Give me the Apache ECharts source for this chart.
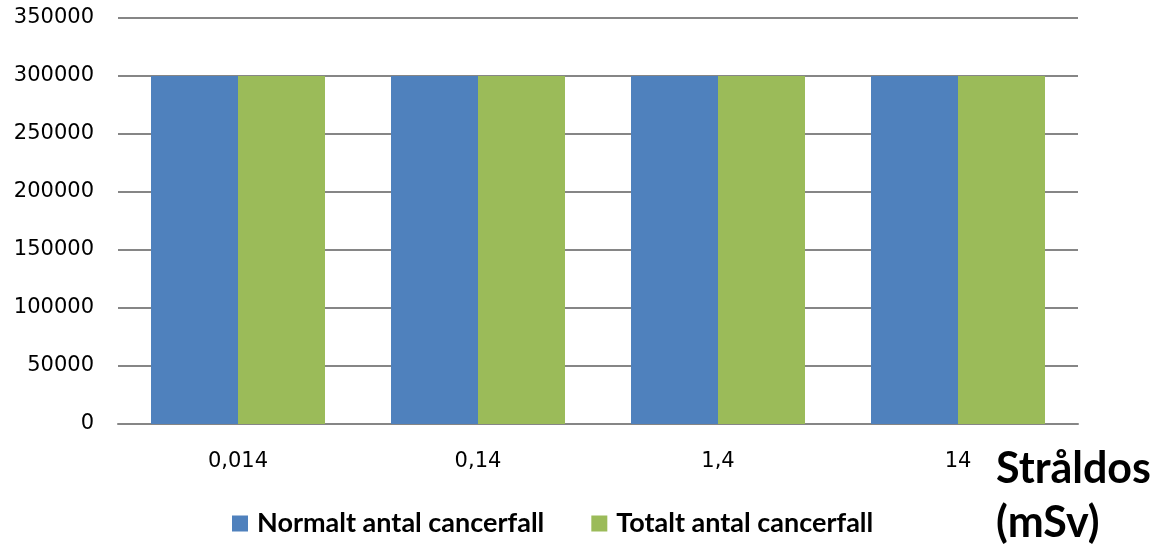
<!DOCTYPE html>
<html>
<head>
<meta charset="utf-8">
<script src="https://cdn.jsdelivr.net/npm/echarts@6/dist/echarts.min.js"></script>
<style>
  html, body { margin: 0; padding: 0; background: #fff; }
  #chart { width: 1171px; height: 544px; }
</style>
</head>
<body>
<div id="chart"></div>
<script>
const categories = ['0,014', '0,14', '1,4', '14'];
const normalt = [300000, 300000, 300000, 300000];
const totalt = [300000, 300000, 300000, 300000];
const seriesNames = ['Normalt antal cancerfall', 'Totalt antal cancerfall'];
const axisName = 'Stråldos\n(mSv)';

const chart = echarts.init(document.getElementById('chart'));
const gridColor = '#868686';

chart.setOption({
  animation: false,
  grid: { left: 118, right: 93, top: 18, bottom: 120 },
  legend: {
    left: 227,
    top: 505,
    icon: 'rect',
    itemWidth: 16,
    itemHeight: 16,
    itemGap: 47,
    textStyle: { fontFamily: 'Lato', fontWeight: 'bold', fontSize: 27, color: '#000', padding: [0, 0, 0, 4] },
    data: seriesNames,
  },
  xAxis: {
    type: 'category',
    data: categories,
    axisLine: { lineStyle: { color: gridColor, width: 2 } },
    axisTick: { show: false },
    axisLabel: { color: '#000', fontFamily: 'DejaVu Sans', fontSize: 21, margin: 27 },
  },
  yAxis: {
    type: 'value',
    min: 0,
    max: 350000,
    interval: 50000,
    axisLine: { show: false },
    axisTick: { show: false },
    axisLabel: { color: '#000', fontFamily: 'DejaVu Sans', fontSize: 21, margin: 24, formatter: (v) => String(v) },
    splitLine: { lineStyle: { color: gridColor, width: 2 } },
  },
  graphic: [{
    type: 'text',
    left: 996,
    top: 442,
    style: {
      text: axisName,
      font: 'bold 43px Lato',
      lineHeight: 54,
      fill: '#000',
    },
  }],
  series: [
    {
      name: seriesNames[0],
      type: 'bar',
      data: normalt,
      barGap: '0%',
      barCategoryGap: '27.5%',
      itemStyle: { color: '#4F81BD' },
    },
    {
      name: seriesNames[1],
      type: 'bar',
      data: totalt,
      itemStyle: { color: '#9BBB59' },
    },
  ],
});
</script>
</body>
</html>
